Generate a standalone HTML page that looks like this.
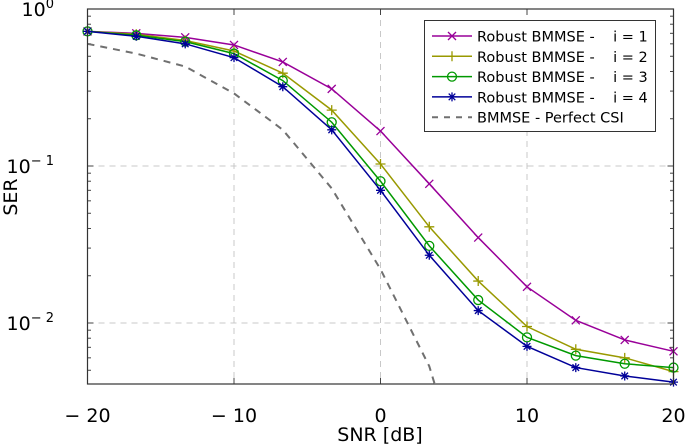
<!DOCTYPE html>
<html><head><meta charset="utf-8"><style>
html,body{margin:0;padding:0;background:#fff;width:685px;height:446px;overflow:hidden;}
svg{display:block;overflow:hidden;font-family:"DejaVu Sans","Liberation Sans",sans-serif;}
</style></head><body>
<svg id="chart" width="685" height="446"></svg>
<script>
const snr = [-20,-16.67,-13.33,-10,-6.67,-3.33,0,3.33,6.67,10,13.33,16.67,20];
const serI1 = [0.72,0.70,0.66,0.59,0.46,0.31,0.167,0.077,0.035,0.017,0.0104,0.0078,0.0066];
const serI2 = [0.72,0.69,0.63,0.54,0.39,0.227,0.103,0.041,0.0185,0.0095,0.0068,0.006,0.0049];
const serI3 = [0.72,0.68,0.62,0.52,0.35,0.19,0.08,0.031,0.014,0.0081,0.0062,0.0055,0.0052];
const serI4 = [0.72,0.67,0.60,0.49,0.32,0.17,0.070,0.027,0.012,0.0071,0.0052,0.0046,0.0042];
const serPerfect = [0.60,0.52,0.43,0.29,0.17,0.072,0.022,0.0053,0.0005];
const xTicks = [-20,-10,0,10,20];
const xTickLabels = ["\u2212 20","\u2212 10","0","10","20"];
const yTickExp = [0,-1,-2];

const NS="http://www.w3.org/2000/svg";
const svg=document.getElementById('chart');
const L=87.5,R=673.5,T=9,B=384;
const X0=-20,X1=20, decade=157;
const xs=v=>L+(v-X0)/(X1-X0)*(R-L);
const ys=v=>T-Math.log10(v)*decade;
function mk(tag,attrs,parent){const e=document.createElementNS(NS,tag);for(const k in attrs)e.setAttribute(k,attrs[k]);(parent||svg).appendChild(e);return e;}

const defs=mk('defs',{});
const cp=mk('clipPath',{id:'clip'},defs);
mk('rect',{x:L,y:T,width:R-L,height:B-T},cp);

const grid=mk('g',{});


xTicks.forEach(t=>{ if(t>X0&&t<X1) mk('line',{x1:xs(t),x2:xs(t),y1:T,y2:B,stroke:'#c8c8c8','stroke-dasharray':'6,5','stroke-width':1},grid);});
yTickExp.forEach(e=>{ const y=ys(Math.pow(10,e)); if(y>T+1) mk('line',{x1:L,x2:R,y1:y,y2:y,stroke:'#c8c8c8','stroke-dasharray':'6,5','stroke-width':1},grid);});

const ticks=mk('g',{stroke:'#444','stroke-width':1});


for(let e=-3;e<=0;e++){for(let m=1;m<10;m++){const v=m*Math.pow(10,e);const y=ys(v);if(y<T-0.5||y>B)continue;const len=m===1?6:3.5;
mk('line',{x1:L,x2:L+len,y1:y,y2:y},ticks);mk('line',{x1:R,x2:R-len,y1:y,y2:y},ticks);}}
xTicks.forEach(t=>{mk('line',{x1:xs(t),x2:xs(t),y1:B,y2:B-6},ticks);mk('line',{x1:xs(t),x2:xs(t),y1:T,y2:T+6},ticks);});

const series=[
 {d:serI1,c:'#990099',m:'x',n:'series-i1'},
 {d:serI2,c:'#999900',m:'plus',n:'series-i2'},
 {d:serI3,c:'#009900',m:'circle',n:'series-i3'},
 {d:serI4,c:'#000099',m:'star',n:'series-i4'}
];
function marker(g,type,x,y,c){
 const s={stroke:c,'stroke-width':1.3,fill:'none'};
 if(type==='x'){mk('path',Object.assign({d:`M${x-4},${y-4}L${x+4},${y+4}M${x-4},${y+4}L${x+4},${y-4}`},s),g);}
 else if(type==='plus'){mk('path',Object.assign({d:`M${x-5},${y}L${x+5},${y}M${x},${y-5}L${x},${y+5}`},s),g);}
 else if(type==='circle'){mk('circle',Object.assign({cx:x,cy:y,r:4.5},s),g);}
 else {mk('path',Object.assign({d:`M${x-4.5},${y}L${x+4.5},${y}M${x},${y-4.5}L${x},${y+4.5}M${x-3.3},${y-3.3}L${x+3.3},${y+3.3}M${x-3.3},${y+3.3}L${x+3.3},${y-3.3}`},s),g);}
}
const pg=mk('g',{'clip-path':'url(#clip)'});
const dg=mk('g',{},pg);


mk('polyline',{points:serPerfect.map((v,i)=>xs(snr[i])+','+ys(v)).join(' '),fill:'none',stroke:'#707070','stroke-width':2,'stroke-dasharray':'7,6'},dg);
series.forEach(s=>{
 const g=mk('g',{},svg);
 
 
 mk('polyline',{points:s.d.map((v,i)=>xs(snr[i])+','+ys(v)).join(' '),fill:'none',stroke:s.c,'stroke-width':1.5},g);
 s.d.forEach((v,i)=>marker(g,s.m,xs(snr[i]),ys(v),s.c));
});

const fr=mk('rect',{x:L,y:T,width:R-L,height:B-T,fill:'none',stroke:'#333','stroke-width':1.2});



xTicks.forEach((t,i)=>{const e=mk('text',{x:xs(t),y:422,'text-anchor':'middle','font-size':19,fill:'#000'});e.textContent=xTickLabels[i];

});
yTickExp.forEach(ex=>{const y=ys(Math.pow(10,ex));const e=mk('text',{x:54,y:y+7,'text-anchor':'end','font-size':19,fill:'#000'});
e.textContent='10';const sp=mk('tspan',{dy:-8,'font-size':13},e);sp.textContent=ex===0?'0':'\u2212 '+(-ex);

});

const xt=mk('text',{x:380,y:441,'text-anchor':'middle','font-size':19,fill:'#000'});xt.textContent='SNR [dB]';


const yt=mk('text',{x:0,y:0,'text-anchor':'middle','font-size':19,fill:'#000',transform:'translate(17,197) rotate(-90)'});yt.textContent='SER';



const lg=mk('g',{});


mk('rect',{x:424.5,y:20.5,width:231,height:111,fill:'#fff',stroke:'#333','stroke-width':1},lg);
const labels=['Robust BMMSE -    i = 1','Robust BMMSE -    i = 2','Robust BMMSE -    i = 3','Robust BMMSE -    i = 4','BMMSE - Perfect CSI'];
labels.forEach((lab,i)=>{
 const y=36+i*20.3;
 const g=mk('g',{},lg);
 
 
 if(i<4){mk('line',{x1:432,x2:472,y1:y,y2:y,stroke:series[i].c,'stroke-width':1.5},g);marker(g,series[i].m,452,y,series[i].c);}
 else mk('line',{x1:432,x2:472,y1:y,y2:y,stroke:'#707070','stroke-width':2,'stroke-dasharray':'6,6'},g);
 const t=mk('text',{x:477,y:y+5.5,'font-size':14.5,fill:'#000'},g);
 t.setAttribute('style','white-space:pre');
 t.textContent=lab;
});
</script>
</body></html>
